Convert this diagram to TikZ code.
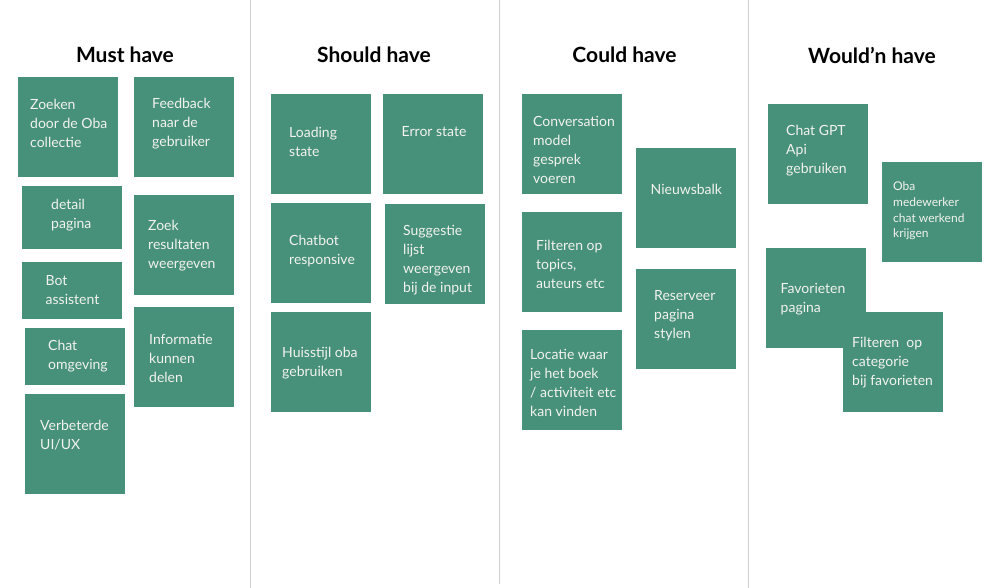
\documentclass[tikz,border=0pt]{standalone}
\usepackage{fontspec}
\setmainfont{Lato}
\definecolor{notegreen}{HTML}{47917A}
\definecolor{notetext}{HTML}{F2F2EE}
\definecolor{divgray}{HTML}{D2D2D2}
\begin{document}
\begin{tikzpicture}[x=1pt,y=-1pt,
  note/.style={fill=notegreen, draw=none, anchor=north west, inner sep=0pt, minimum width=100pt, minimum height=100pt},
  lbl/.style={anchor=west, align=left, inner sep=0pt, text=notetext, font=\fontsize{14}{19}\selectfont, yshift=-1pt},
  small/.style={lbl, font=\fontsize{12}{15.7}\selectfont},
  title/.style={inner sep=0pt, font=\fontsize{21}{24}\selectfont\bfseries, text=black},
  divider/.style={draw=divgray, line width=1pt}]
\useasboundingbox (0,0) rectangle (998,588);
\fill[white] (0,0) rectangle (998,588);
% dividers
\coordinate (d1t) at (250.5,0); \coordinate (d1b) at (250.5,588);
\coordinate (d2t) at (499.5,0); \coordinate (d2b) at (499.5,584);
\coordinate (d3t) at (748.5,0); \coordinate (d3b) at (748.5,588);
\draw[divider] (d1t) -- (d1b);
\draw[divider] (d2t) -- (d2b);
\draw[divider] (d3t) -- (d3b);
% titles
\node[title] (tmust) at (125,55) {Must have};
\node[title] (tshould) at (374,55) {Should have};
\node[title] (tcould) at (624.5,55) {Could have};
\node[title] (twould) at (872,55) {Would’n have};
% Must have
\node[note] (m1) at (18,77) {};
\node[lbl] (m1t) at (30,122.5) {Zoeken\\door de Oba\\collectie};
\node[note] (m2) at (134,77) {};
\node[lbl] (m2t) at (152,122.5) {Feedback\\naar de\\gebruiker};
\node[note, minimum height=63pt] (m3) at (22,186) {};
\node[lbl] (m3t) at (51,214) {detail\\pagina};
\node[note] (m4) at (134,195) {};
\node[lbl] (m4t) at (148,244.5) {Zoek\\resultaten\\weergeven};
\node[note, minimum height=57pt] (m5) at (22,262) {};
\node[lbl] (m5t) at (45.5,289) {Bot\\assistent};
\node[note, minimum height=57pt] (m6) at (25,328) {};
\node[lbl] (m6t) at (48,355) {Chat\\omgeving};
\node[note] (m7) at (25,394) {};
\node[lbl] (m7t) at (40,434.5) {Verbeterde\\UI/UX};
\node[note] (m8) at (134,307) {};
\node[lbl] (m8t) at (149,357.5) {Informatie\\kunnen\\delen};
% Should have
\node[note] (s1) at (271,94) {};
\node[lbl] (s1t) at (289,140.5) {Loading\\state};
\node[note] (s2) at (383,94) {};
\node[lbl] (s2t) at (401.5,131) {Error state};
\node[note] (s3) at (271,203) {};
\node[lbl] (s3t) at (289,250) {Chatbot\\responsive};
\node[note] (s4) at (385,204) {};
\node[lbl] (s4t) at (403,259) {Suggestie\\lijst\\weergeven\\bij de input};
\node[note] (s5) at (271,312) {};
\node[lbl] (s5t) at (282,362) {Huisstijl oba\\gebruiken};
% Could have
\node[note] (c1) at (522,94) {};
\node[lbl] (c1t) at (533,148.5) {Conversation\\model\\gesprek\\voeren};
\node[note] (c2) at (636,148) {};
\node[lbl] (c2t) at (650.5,188.5) {Nieuwsbalk};
\node[note] (c3) at (522,212) {};
\node[lbl] (c3t) at (536,263) {Filteren op\\topics,\\auteurs etc};
\node[note] (c4) at (636,269) {};
\node[lbl] (c4t) at (654,315) {Reserveer\\pagina\\stylen};
\node[note] (c5) at (522,330) {};
\node[lbl] (c5t) at (530,381.5) {Locatie waar\\je het boek\\/ activiteit etc\\kan vinden};
% Would'n have
\node[note] (w1) at (768,104) {};
\node[lbl] (w1t) at (786,149.5) {Chat GPT\\Api\\gebruiken};
\node[note] (w2) at (882,162) {};
\node[small] (w2t) at (893,210) {Oba\\medewerker\\chat werkend\\krijgen};
\node[note] (w3) at (766,248) {};
\node[lbl] (w3t) at (780.5,298) {Favorieten\\pagina};
\node[note] (w4) at (843,312) {};
\node[lbl] (w4t) at (852,362) {Filteren~~op\\categorie\\bij favorieten};
\end{tikzpicture}
\end{document}
